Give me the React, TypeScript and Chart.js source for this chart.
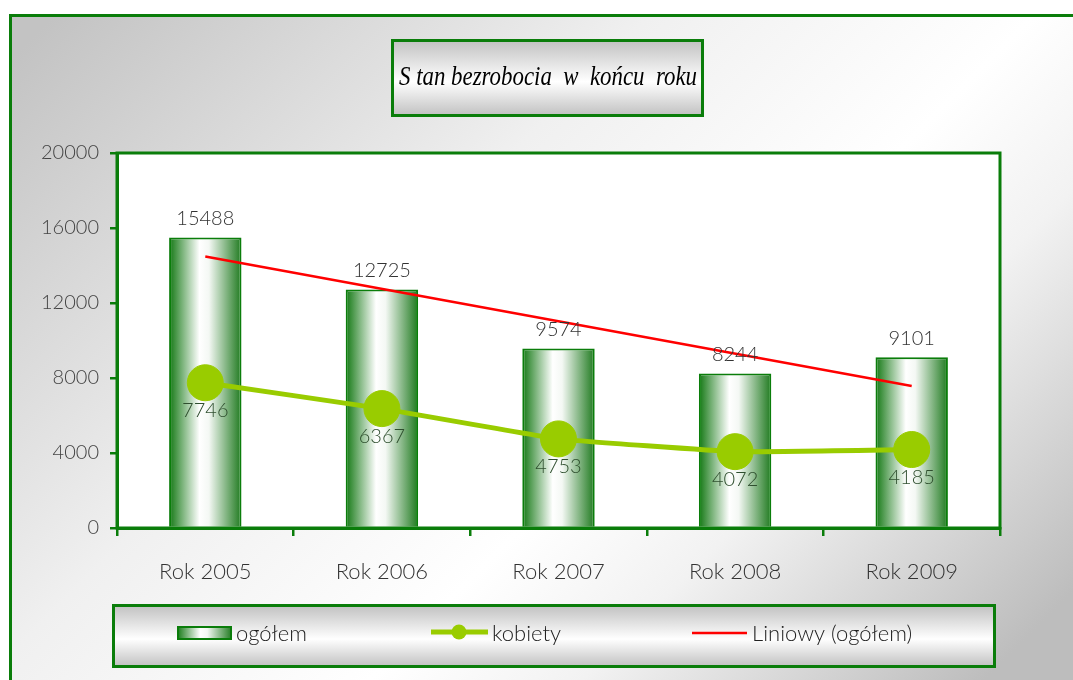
import React, { useEffect, useRef } from 'react';
import { Chart, registerables } from 'chart.js';

Chart.register(...registerables);

const categories = ['Rok 2005', 'Rok 2006', 'Rok 2007', 'Rok 2008', 'Rok 2009'];
const ogolem = [15488, 12725, 9574, 8244, 9101];
const kobiety = [7746, 6367, 4753, 4072, 4185];
const trendEnds = [14477, null, null, null, 7575];
const titleText = 'S tan bezrobocia  w  końcu  roku';
const legendLabels = ['ogółem', 'kobiety', 'Liniowy (ogółem)'];

const GREEN = '#0a7d0a';
const LIME = '#99cc00';
const HAND = '"Lato", "DejaVu Sans", sans-serif';
const BAR_FRAC = 0.41;

function barGradient(c: CanvasRenderingContext2D, x0: number, x1: number) {
  const g = c.createLinearGradient(x0, 0, x1, 0);
  g.addColorStop(0, '#137813');
  g.addColorStop(0.42, '#ffffff');
  g.addColorStop(0.55, '#f4f8f4');
  g.addColorStop(1, '#1f7a1f');
  return g;
}

function vGrad(c: CanvasRenderingContext2D, y0: number, y1: number) {
  const g = c.createLinearGradient(0, y0, 0, y1);
  g.addColorStop(0, '#c2c2c2');
  g.addColorStop(0.55, '#ffffff');
  g.addColorStop(1, '#c2c2c2');
  return g;
}

const decorPlugin = {
  id: 'decor',
  beforeDraw(chart: any) {
    const c = chart.ctx as CanvasRenderingContext2D;
    const W = chart.width, H = chart.height;
    c.save();
    c.fillStyle = '#ffffff';
    c.fillRect(0, 0, W, H);
    const g = c.createLinearGradient(0, 0, 876, 876);
    g.addColorStop(0.04, '#c3c3c3');
    g.addColorStop(0.38, '#f0f0f0');
    g.addColorStop(0.6, '#ffffff');
    g.addColorStop(0.72, '#f2f2f2');
    g.addColorStop(0.95, '#bdbdbd');
    c.fillStyle = g;
    c.fillRect(10, 15, W, H);
    c.strokeStyle = GREEN;
    c.lineWidth = 3;
    c.strokeRect(10.5, 15.5, W + 20, H + 20);

    // title box
    c.fillStyle = vGrad(c, 41, 115);
    c.fillRect(392, 40, 311, 76);
    c.strokeStyle = GREEN;
    c.lineWidth = 3;
    c.strokeRect(392.5, 40.5, 310, 75);
    c.fillStyle = '#000';
    c.font = 'italic 27px "Liberation Serif", serif';
    c.textBaseline = 'middle';
    c.textAlign = 'center';
    const tw = c.measureText(titleText).width;
    const sx = Math.min(1, 298 / tw);
    c.save();
    c.translate(548, 78);
    c.scale(sx, 1);
    c.fillText(titleText, 0, 0);
    c.restore();

    // plot area background
    const a = chart.chartArea;
    c.fillStyle = '#ffffff';
    c.fillRect(a.left, a.top, a.right - a.left, a.bottom - a.top);

    // legend box
    c.fillStyle = vGrad(c, 606, 666);
    c.fillRect(113, 605, 882, 62);
    c.strokeStyle = GREEN;
    c.lineWidth = 3;
    c.strokeRect(113.5, 605.5, 881, 61);

    // legend items
    c.fillStyle = barGradient(c, 177, 232);
    c.fillRect(177, 626, 55, 14);
    c.strokeStyle = GREEN;
    c.lineWidth = 2;
    c.strokeRect(178, 627, 53, 12);

    c.strokeStyle = LIME;
    c.lineWidth = 5;
    c.beginPath();
    c.moveTo(431, 632);
    c.lineTo(488, 632);
    c.stroke();
    c.fillStyle = LIME;
    c.beginPath();
    c.arc(459, 632, 7.5, 0, Math.PI * 2);
    c.fill();

    c.strokeStyle = '#ff0000';
    c.lineWidth = 2.5;
    c.beginPath();
    c.moveTo(692, 633);
    c.lineTo(747, 633);
    c.stroke();

    c.fillStyle = '#222';
    c.font = '300 22px ' + HAND;
    c.textAlign = 'left';
    c.textBaseline = 'middle';
    c.fillText(legendLabels[0], 236, 634);
    c.fillText(legendLabels[1], 492, 634);
    c.fillText(legendLabels[2], 752, 634);
    c.restore();
  },
  afterDraw(chart: any) {
    const c = chart.ctx as CanvasRenderingContext2D;
    const a = chart.chartArea;
    c.save();
    c.strokeStyle = GREEN;
    c.lineWidth = 3;
    c.strokeRect(a.left, a.top, a.right - a.left, a.bottom - a.top);
    c.restore();
  },
  afterDatasetsDraw(chart: any) {
    const c = chart.ctx as CanvasRenderingContext2D;
    c.save();
    c.textAlign = 'center';
    c.textBaseline = 'middle';
    c.font = '300 20px ' + HAND;
    const barMeta = chart.getDatasetMeta(0);
    barMeta.data.forEach((el: any, i: number) => {
      c.fillStyle = '#333';
      c.fillText(String(ogolem[i]), el.x, el.y - 19);
    });
    const lineMeta = chart.getDatasetMeta(1);
    lineMeta.data.forEach((el: any, i: number) => {
      c.fillStyle = '#2f4f2f';
      c.fillText(String(kobiety[i]), el.x, el.y + 28);
    });
    c.restore();
  },
};

export default function App() {
  const ref = useRef<HTMLCanvasElement | null>(null);
  useEffect(() => {
    if (!ref.current) return;
    const chart = new Chart(ref.current, {
      type: 'bar',
      data: {
        labels: categories,
        datasets: [
          {
            type: 'bar',
            label: legendLabels[0],
            data: ogolem,
            order: 3,
            barPercentage: BAR_FRAC,
            categoryPercentage: 1,
            borderColor: GREEN,
            borderWidth: 2,
            backgroundColor: (ctx: any) => {
              const ch = ctx.chart;
              const area = ch.chartArea;
              if (!area || ctx.type !== 'data') return '#ffffff';
              const cx = ch.scales.x.getPixelForValue(ctx.dataIndex);
              const w = ((area.right - area.left) / categories.length) * BAR_FRAC;
              return barGradient(ch.ctx, cx - w / 2, cx + w / 2);
            },
          } as any,
          {
            type: 'line',
            label: legendLabels[1],
            data: kobiety,
            order: 2,
            borderColor: LIME,
            borderWidth: 5,
            backgroundColor: LIME,
            pointRadius: 18,
            pointBorderWidth: 1,
            pointBorderColor: LIME,
            pointBackgroundColor: LIME,
            tension: 0.1,
          } as any,
          {
            type: 'line',
            label: legendLabels[2],
            data: trendEnds,
            order: 1,
            spanGaps: true,
            borderColor: '#ff0000',
            borderWidth: 2.5,
            pointRadius: 0,
            tension: 0,
          } as any,
        ],
      },
      options: {
        animation: false,
        responsive: true,
        maintainAspectRatio: false,
        layout: { padding: { left: 0, top: 153, right: 73, bottom: 0 } },
        plugins: {
          legend: { display: false },
          title: { display: false },
          tooltip: { enabled: false },
        },
        scales: {
          x: {
            afterFit: (s: any) => {
              s.height = 152;
            },
            grid: {
              offset: true,
              drawOnChartArea: false,
              drawTicks: true,
              tickLength: 8,
              color: GREEN,
              lineWidth: 2.5,
            },
            border: { color: GREEN, width: 3 },
            ticks: {
              color: '#333',
              padding: 23,
              font: { family: HAND, size: 22, weight: 300 as any },
            },
          },
          y: {
            min: 0,
            max: 20000,
            afterFit: (s: any) => {
              s.width = 117;
            },
            grid: {
              drawOnChartArea: false,
              drawTicks: true,
              tickLength: 7,
              color: GREEN,
              lineWidth: 2.5,
            },
            border: { color: GREEN, width: 3 },
            ticks: {
              stepSize: 4000,
              color: '#444',
              padding: 11,
              callback: (v: any) => String(v),
              font: { family: HAND, size: 20, weight: 300 as any },
            },
          },
        },
      },
      plugins: [decorPlugin],
    });
    return () => chart.destroy();
  }, []);
  return (
    <div style={{ position: 'absolute', left: 0, top: 0, width: 1073, height: 680 }}>
      <canvas ref={ref} />
    </div>
  );
}
